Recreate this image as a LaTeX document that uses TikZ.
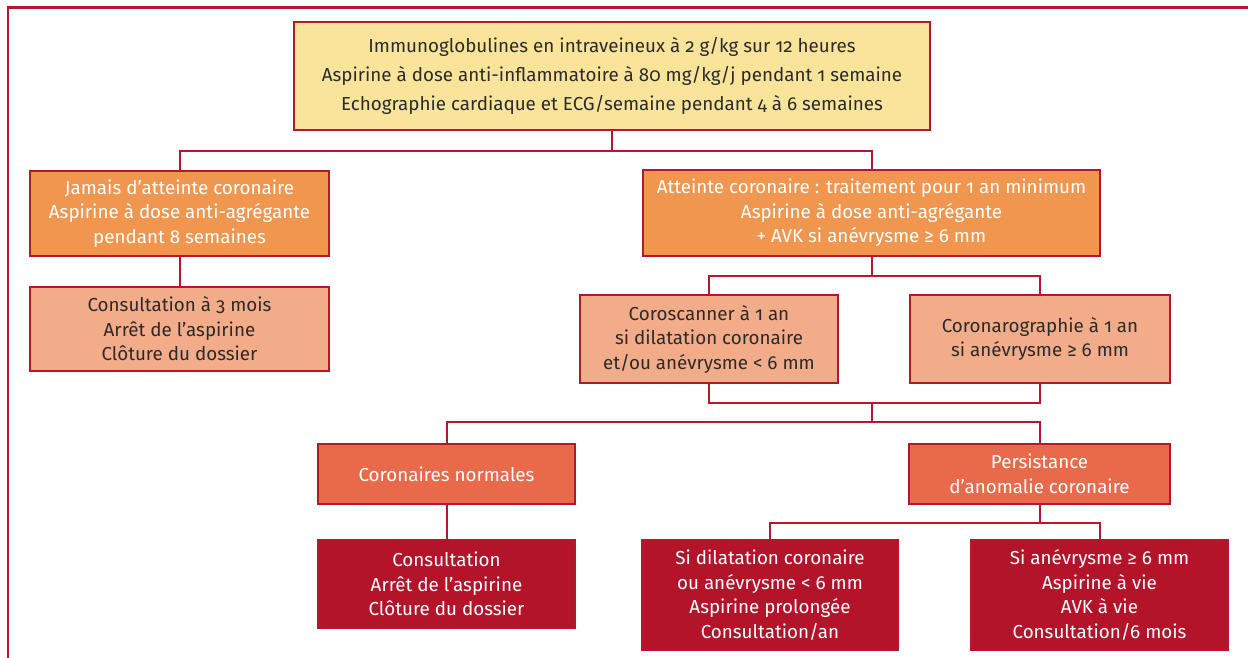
\documentclass[tikz,border=0pt]{standalone}
\usepackage{fontspec}
\setmainfont{Fira Sans}[Numbers=OldStyle]
\definecolor{lineRed}{HTML}{B5172B}
\definecolor{fillYellow}{HTML}{F9E49A}
\definecolor{fillOrange}{HTML}{F0964F}
\definecolor{fillSalmon}{HTML}{F2AC8A}
\definecolor{fillCoral}{HTML}{E86A4B}
\definecolor{fillDark}{HTML}{B3142A}
\definecolor{txtDark}{HTML}{2B2B2B}
\tikzset{
  box/.style={draw=lineRed, line width=2pt, rectangle, align=center, inner sep=0pt},
  yellowbox/.style={box, fill=fillYellow, text=txtDark, font=\fontsize{18.8}{29}\selectfont},
  orangebox/.style={box, fill=fillOrange, text=white, font=\fontsize{18.8}{24.5}\selectfont},
  salmonbox/.style={box, fill=fillSalmon, text=txtDark, font=\fontsize{18.8}{24.5}\selectfont},
  coralbox/.style={box, fill=fillCoral, text=white, font=\fontsize{18.8}{24.5}\selectfont},
  darkbox/.style={box, fill=fillDark, text=white, font=\fontsize{18.8}{24.5}\selectfont},
  link/.style={draw=lineRed, line width=2pt},
  frameline/.style={draw=lineRed, line width=2.2pt}
}
\begin{document}
\begin{tikzpicture}[x=1pt,y=-1pt]
\useasboundingbox (0,0) rectangle (1248,658);
\draw[frameline] (8,658) -- (8,7.5) -- (1248,7.5);

\node[yellowbox, minimum width=636pt, minimum height=108pt] (top) at (612,76)
  {Immunoglobulines en intraveineux à 2 g/kg sur 12 heures\\
   Aspirine à dose anti-inflammatoire à 80 mg/kg/j pendant 1 semaine\\
   Echographie cardiaque et ECG/semaine pendant 4 à 6 semaines};

\node[orangebox, minimum width=299pt, minimum height=85pt] (jamais) at (179.5,213.5)
  {Jamais d’atteinte coronaire\\ Aspirine à dose anti-agrégante\\ pendant 8 semaines};
\node[orangebox, minimum width=457pt, minimum height=85pt] (atteinte) at (871.5,213)
  {Atteinte coronaire : traitement pour 1 an minimum\\ Aspirine à dose anti-agrégante\\ + AVK si anévrysme ≥ 6 mm};

\node[salmonbox, minimum width=299pt, minimum height=84pt] (cons3) at (179.5,329)
  {Consultation à 3 mois\\ Arrêt de l’aspirine\\ Clôture du dossier};
\node[salmonbox, minimum width=258pt, minimum height=88pt] (coro) at (709,339)
  {Coroscanner à 1 an\\ si dilatation coronaire\\ et/ou anévrysme < 6 mm};
\node[salmonbox, minimum width=260pt, minimum height=88pt] (corog) at (1040,339)
  {Coronarographie à 1 an\\ si anévrysme ≥ 6 mm};

\node[coralbox, minimum width=257pt, minimum height=60pt] (normal) at (446.5,474)
  {Coronaires normales};
\node[coralbox, minimum width=261pt, minimum height=60pt] (persist) at (1039.5,474)
  {Persistance\\ d’anomalie coronaire};

\node[darkbox, minimum width=257pt, minimum height=88pt] (fin1) at (446.5,584)
  {Consultation\\ Arrêt de l’aspirine\\ Clôture du dossier};
\node[darkbox, minimum width=256pt, minimum height=110pt] (fin2) at (770,595)
  {Si dilatation coronaire\\ ou anévrysme < 6 mm\\ Aspirine prolongée\\ Consultation/an};
\node[darkbox, minimum width=257pt, minimum height=110pt] (fin3) at (1099.5,595)
  {Si anévrysme ≥ 6 mm\\ Aspirine à vie\\ AVK à vie\\ Consultation/6 mois};

\coordinate (j1) at (612,151);
\coordinate (j2) at (871.5,275.5);
\coordinate (j3) at (871.5,403);
\coordinate (j4) at (871.5,422);
\coordinate (j5) at (1039.5,522.5);

\draw[link] (top.south) -- (j1);
\draw[link] (jamais.north) |- (j1) -| (atteinte.north);
\draw[link] (jamais.south) -- (cons3.north);
\draw[link] (atteinte.south) -- (j2);
\draw[link] (coro.north) |- (j2) -| (corog.north);
\draw[link] (coro.south) |- (j3) -| (corog.south);
\draw[link] (j3) -- (j4);
\draw[link] (normal.north) |- (j4) -| (persist.north);
\draw[link] (normal.south) -- (fin1.north);
\draw[link] (persist.south) -- (j5);
\draw[link] (fin2.north) |- (j5) -| (fin3.north);
\end{tikzpicture}
\end{document}
